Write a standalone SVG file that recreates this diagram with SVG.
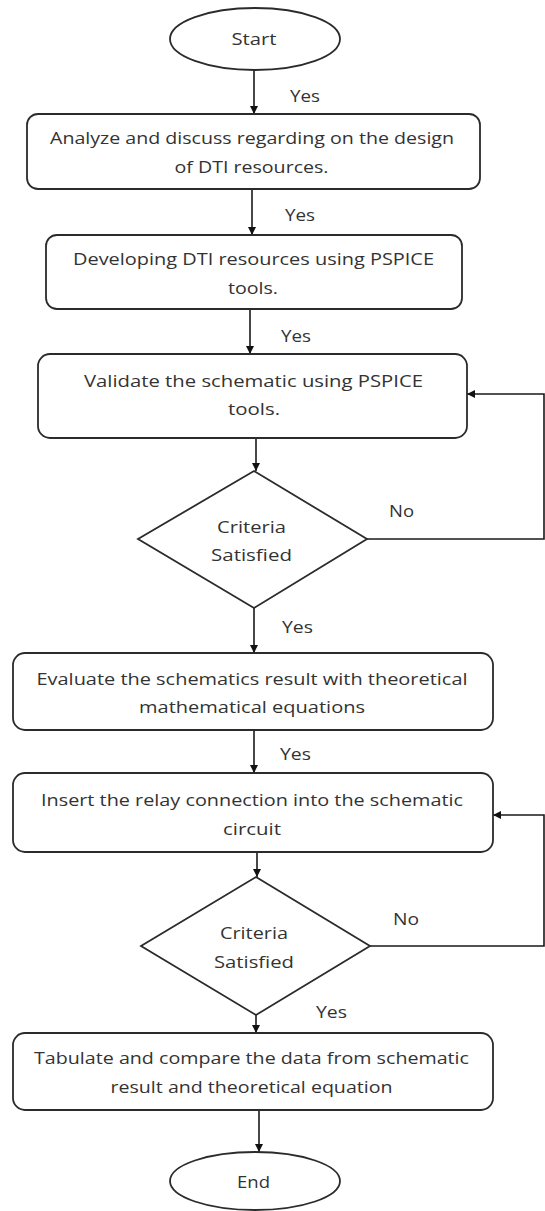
<svg xmlns="http://www.w3.org/2000/svg" width="545" height="1211" viewBox="0 0 545 1211">
<defs>
<marker id="ah" viewBox="0 0 10 10" refX="10" refY="5" markerWidth="8" markerHeight="8" markerUnits="userSpaceOnUse" orient="auto">
<path d="M0,0 L10,5 L0,10 z" fill="#111"/>
</marker>
<style>
.n{fill:#fff;stroke:#2b2b2b;stroke-width:1.8}
.t{font-family:"Open Sans","Liberation Sans",sans-serif;font-size:17px;fill:#333;text-anchor:middle}
.l{font-family:"Open Sans","Liberation Sans",sans-serif;font-size:16px;fill:#333}
.c{fill:none;stroke:#1a1a1a;stroke-width:1.6}
</style>
</defs>
<rect width="545" height="1211" fill="#fff"/>
<g id="connectors">
<line class="c" x1="254" y1="70" x2="254" y2="114" marker-end="url(#ah)"/>
<line class="c" x1="252" y1="189" x2="252" y2="235" marker-end="url(#ah)"/>
<line class="c" x1="250" y1="309" x2="250" y2="354" marker-end="url(#ah)"/>
<line class="c" x1="256" y1="438" x2="256" y2="471" marker-end="url(#ah)"/>
<polyline class="c" points="367,539 544,539 544,394 467,394" marker-end="url(#ah)"/>
<line class="c" x1="254" y1="608" x2="254" y2="653" marker-end="url(#ah)"/>
<line class="c" x1="254" y1="730" x2="254" y2="773" marker-end="url(#ah)"/>
<line class="c" x1="257" y1="852" x2="257" y2="877" marker-end="url(#ah)"/>
<polyline class="c" points="370,946 544,946 544,815 493,815" marker-end="url(#ah)"/>
<line class="c" x1="256" y1="1015" x2="256" y2="1033" marker-end="url(#ah)"/>
<line class="c" x1="259" y1="1110" x2="259" y2="1152" marker-end="url(#ah)"/>
<text class="l" x="290" y="102" textLength="30" lengthAdjust="spacingAndGlyphs">Yes</text>
<text class="l" x="285" y="221" textLength="30" lengthAdjust="spacingAndGlyphs">Yes</text>
<text class="l" x="281" y="342" textLength="30" lengthAdjust="spacingAndGlyphs">Yes</text>
<text class="l" x="389" y="517" textLength="25" lengthAdjust="spacingAndGlyphs">No</text>
<text class="l" x="282" y="633" textLength="31" lengthAdjust="spacingAndGlyphs">Yes</text>
<text class="l" x="280" y="760" textLength="31" lengthAdjust="spacingAndGlyphs">Yes</text>
<text class="l" x="393" y="925" textLength="26" lengthAdjust="spacingAndGlyphs">No</text>
<text class="l" x="316" y="1018" textLength="31" lengthAdjust="spacingAndGlyphs">Yes</text>
</g>
<g id="start">
<ellipse class="n" cx="255" cy="39" rx="85" ry="31"/>
<text class="t" x="254" y="45" textLength="45" lengthAdjust="spacingAndGlyphs">Start</text>
</g>
<g id="analyze">
<rect class="n" x="27" y="114" width="453" height="75" rx="11"/>
<text class="t" x="252" y="144" textLength="404" lengthAdjust="spacingAndGlyphs">Analyze and discuss regarding on the design</text>
<text class="t" x="251.5" y="173" textLength="154" lengthAdjust="spacingAndGlyphs">of DTI resources.</text>
</g>
<g id="develop">
<rect class="n" x="46" y="235" width="416" height="74" rx="11"/>
<text class="t" x="253.5" y="265" textLength="361" lengthAdjust="spacingAndGlyphs">Developing DTI resources using PSPICE</text>
<text class="t" x="253" y="294" textLength="50" lengthAdjust="spacingAndGlyphs">tools.</text>
</g>
<g id="validate">
<rect class="n" x="38" y="354" width="429" height="84" rx="12"/>
<text class="t" x="253.5" y="387" textLength="339" lengthAdjust="spacingAndGlyphs">Validate the schematic using PSPICE</text>
<text class="t" x="254" y="415" textLength="52" lengthAdjust="spacingAndGlyphs">tools.</text>
</g>
<g id="criteria1">
<polygon class="n" points="254,471 367,539 254,608 138,539"/>
<text class="t" x="251.5" y="533" textLength="69" lengthAdjust="spacingAndGlyphs">Criteria</text>
<text class="t" x="251.5" y="561" textLength="81" lengthAdjust="spacingAndGlyphs">Satisfied</text>
</g>
<g id="evaluate">
<rect class="n" x="13" y="653" width="480" height="77" rx="12"/>
<text class="t" x="252" y="685" textLength="431" lengthAdjust="spacingAndGlyphs">Evaluate the schematics result with theoretical</text>
<text class="t" x="252" y="713" textLength="226" lengthAdjust="spacingAndGlyphs">mathematical equations</text>
</g>
<g id="insert">
<rect class="n" x="13" y="773" width="480" height="79" rx="12"/>
<text class="t" x="252" y="806" textLength="422" lengthAdjust="spacingAndGlyphs">Insert the relay connection into the schematic</text>
<text class="t" x="252" y="835" textLength="58" lengthAdjust="spacingAndGlyphs">circuit</text>
</g>
<g id="criteria2">
<polygon class="n" points="256,877 370,946 256,1015 141,946"/>
<text class="t" x="254" y="939" textLength="68" lengthAdjust="spacingAndGlyphs">Criteria</text>
<text class="t" x="254" y="968" textLength="80" lengthAdjust="spacingAndGlyphs">Satisfied</text>
</g>
<g id="tabulate">
<rect class="n" x="13" y="1033" width="480" height="77" rx="12"/>
<text class="t" x="251.5" y="1064" textLength="435" lengthAdjust="spacingAndGlyphs">Tabulate and compare the data from schematic</text>
<text class="t" x="251.5" y="1093" textLength="282" lengthAdjust="spacingAndGlyphs">result and theoretical equation</text>
</g>
<g id="end">
<ellipse class="n" cx="255" cy="1181" rx="85" ry="29"/>
<text class="t" x="253.5" y="1188" textLength="33" lengthAdjust="spacingAndGlyphs">End</text>
</g>
</svg>
